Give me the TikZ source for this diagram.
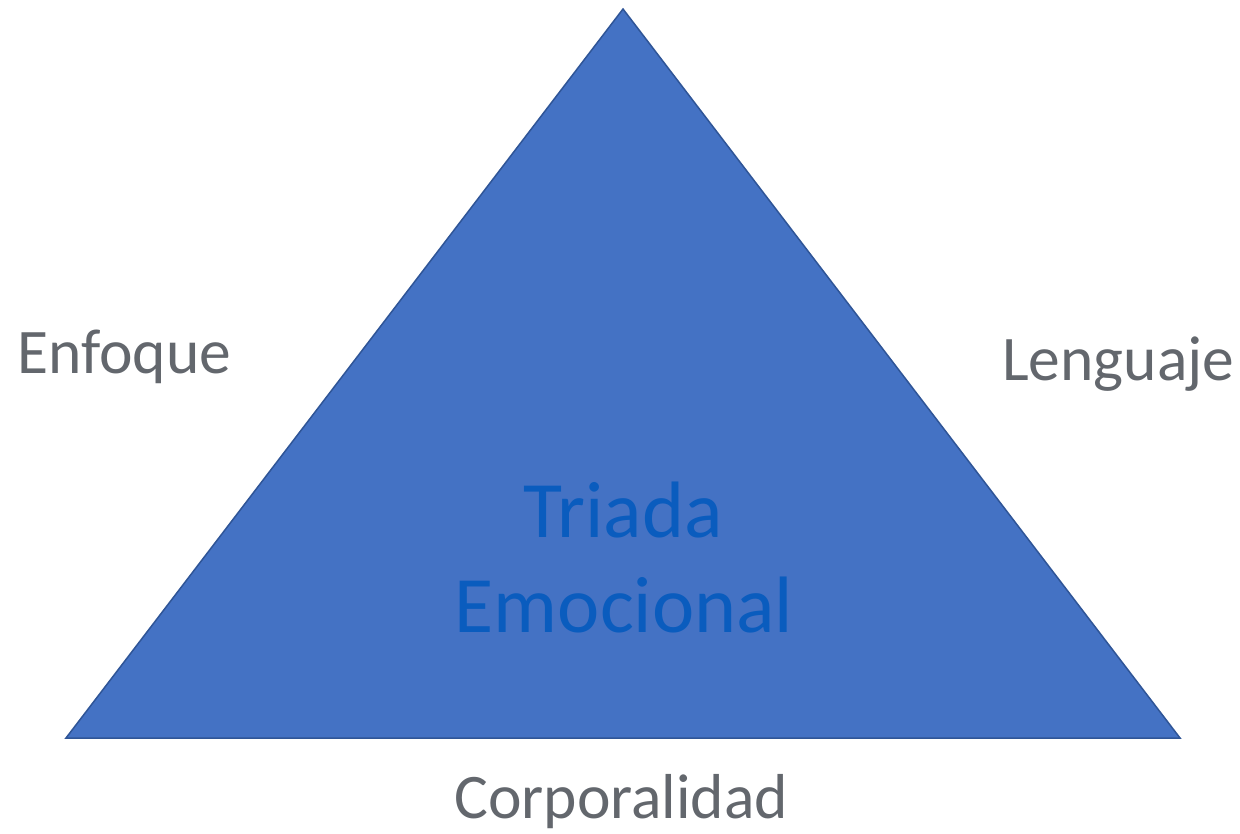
\documentclass[tikz,border=0pt]{standalone}
\usepackage{fontspec}
\setmainfont{Carlito}
\definecolor{trifill}{HTML}{4472C4}
\definecolor{tridraw}{HTML}{2F5597}
\definecolor{tritext}{HTML}{0A5CBE}
\definecolor{labgray}{HTML}{63676D}
\begin{document}
\begin{tikzpicture}[x=1pt,y=-1pt,
  lab/.style={text=labgray,font=\fontsize{63.5}{76}\selectfont,inner sep=0pt,anchor=base west},
  ctext/.style={text=tritext,font=\fontsize{80}{95}\selectfont,inner sep=0pt,anchor=base}]
\useasboundingbox (0,0) rectangle (1240,833);
\coordinate (A) at (623,9);
\coordinate (B) at (66,738);
\coordinate (C) at (1180,738);
\path[fill=trifill,draw=tridraw,line width=1.5pt,line join=miter] (A) -- (B) -- (C) -- cycle;
\node[ctext] (t1) at (623,537) {Triada};
\node[ctext] (t2) at (624,632) {Emocional};
\node[lab] (enf) at (17,373) {Enfoque};
\node[lab] (len) at (1002,380) {Lenguaje};
\node[lab] (cor) at (454,818) {Corporalidad};
\end{tikzpicture}
\end{document}
